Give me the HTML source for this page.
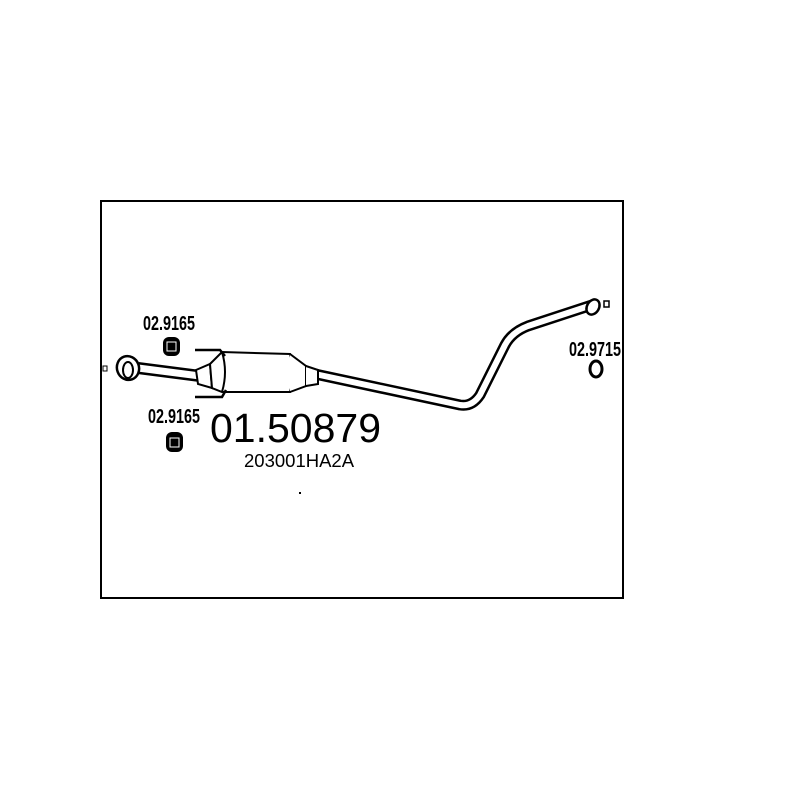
<!DOCTYPE html>
<html><head><style>
html,body{margin:0;padding:0;background:#fff;}
svg{display:block;}
text{font-family:"Liberation Sans",sans-serif;fill:#000;}
</style></head><body>
<svg width="800" height="800" viewBox="0 0 800 800" xmlns="http://www.w3.org/2000/svg">
<rect x="101" y="201" width="522" height="397" fill="none" stroke="#000" stroke-width="2"/>
<!-- main pipe -->
<path d="M315 374 L460 405 Q472 407 480 395 L505 345 Q512 332 528 326 L592 305" fill="none" stroke="#000" stroke-width="11" stroke-linejoin="round"/>
<path d="M315 374 L460 405 Q472 407 480 395 L505 345 Q512 332 528 326 L592 305" fill="none" stroke="#fff" stroke-width="6" stroke-linejoin="round"/>
<!-- front pipe -->
<path d="M138 368 L200 376" fill="none" stroke="#000" stroke-width="12"/>
<path d="M138 368 L200 376" fill="none" stroke="#fff" stroke-width="7"/>
<!-- flange -->
<ellipse cx="128" cy="368" rx="11" ry="12" fill="#fff" stroke="#000" stroke-width="2.5" transform="rotate(-20 128 368)"/>
<ellipse cx="128" cy="370" rx="5" ry="8" fill="none" stroke="#000" stroke-width="2"/>
<rect x="103" y="366" width="4" height="5" fill="#fff" stroke="#000" stroke-width="1"/>
<!-- catalyst -->
<path d="M196 370 L210 364 L212 388 L198 384 Z" fill="#fff" stroke="#000" stroke-width="2"/>
<path d="M210 364 L222 352 L290 354 Q296 372 290 392 L222 392 L212 388 Z" fill="#fff" stroke="#000" stroke-width="2"/>
<path d="M222 352 Q228 372 222 392" fill="none" stroke="#000" stroke-width="2"/>
<path d="M290 354 L306 366 L306 386 L290 392" fill="#fff" stroke="#000" stroke-width="2"/>
<path d="M306 366 L318 370 L318 384 L306 386" fill="#fff" stroke="#000" stroke-width="2"/>
<!-- brackets -->
<path d="M195 350 L220 350 L225 356" fill="none" stroke="#000" stroke-width="2.5"/>
<path d="M195 397 L222 397 L226 390" fill="none" stroke="#000" stroke-width="2.5"/>
<!-- hangers -->
<rect x="163" y="337" width="17" height="19" rx="6" fill="#000"/>
<rect x="167" y="342" width="9" height="9" fill="none" stroke="#fff" stroke-width="1"/>
<rect x="166" y="432" width="17" height="20" rx="6" fill="#000"/>
<rect x="170" y="438" width="9" height="9" fill="none" stroke="#fff" stroke-width="1"/>
<!-- rear end -->
<ellipse cx="593" cy="307" rx="6" ry="8" fill="#fff" stroke="#000" stroke-width="2.5" transform="rotate(30 593 307)"/>
<rect x="604" y="301" width="5" height="6" fill="#fff" stroke="#000" stroke-width="1.5"/>
<ellipse cx="596" cy="369" rx="6" ry="8" fill="none" stroke="#000" stroke-width="3"/>
<!-- labels -->
<text font-size="20" font-weight="bold" transform="translate(143,330) scale(0.72,1)">02.9165</text>
<text font-size="20" font-weight="bold" transform="translate(148,423) scale(0.72,1)">02.9165</text>
<text font-size="20" font-weight="bold" transform="translate(569,356) scale(0.72,1)">02.9715</text>
<text x="210" y="442" font-size="41">01.50879</text>
<text x="244" y="467" font-size="18.5">203001HA2A</text>
<rect x="299" y="492" width="2" height="2" fill="#000"/>
</svg>
</body></html>
